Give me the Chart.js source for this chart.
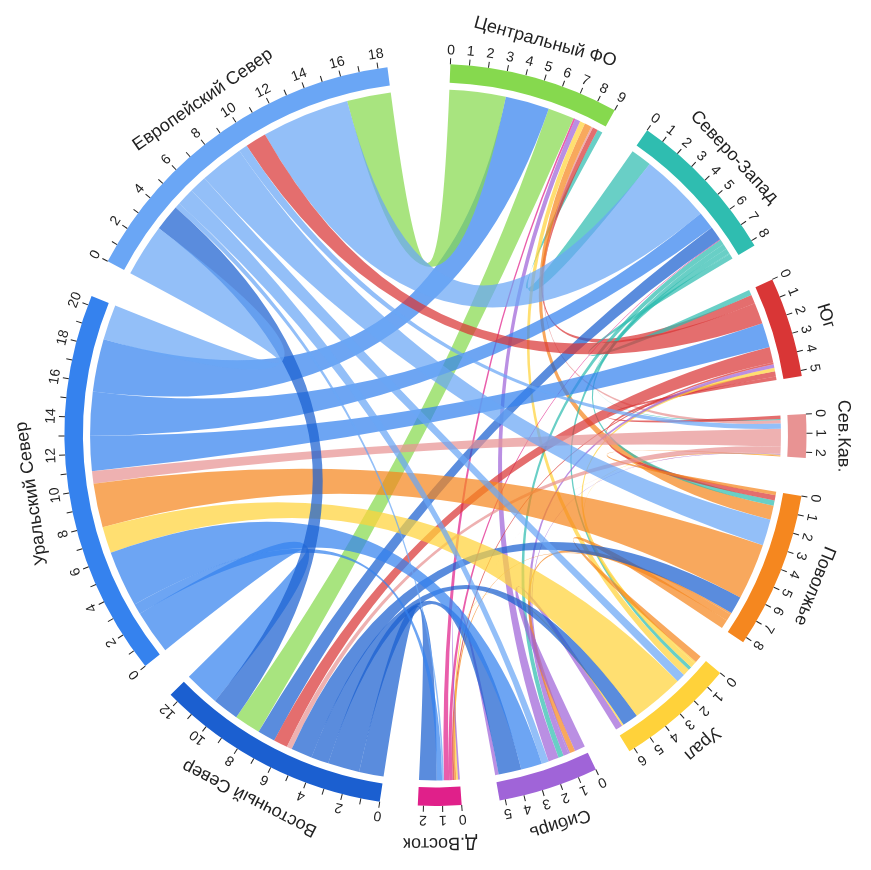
<!DOCTYPE html>
<html>
<head>
<meta charset="utf-8">
<script src="https://cdn.jsdelivr.net/npm/chart.js@4.4.0/dist/chart.umd.min.js"></script>
<style>
  html, body { margin: 0; padding: 0; background: #fff; }
  #wrap { width: 871px; height: 870px; }
</style>
</head>
<body>
<div id="wrap"><canvas id="chord"></canvas></div>
<script>
// Регионы по часовой стрелке, начиная сверху
const regions = ['Центральный ФО', 'Северо-Запад', 'Юг', 'Сев.Кав.', 'Поволжье', 'Урал',
                 'Сибирь', 'Д.Восток', 'Восточный Север', 'Уральский Север', 'Европейский Север'];
const regionColors = ['#86d94e', '#2fbdb0', '#d93636', '#e89393', '#f5871f', '#ffd23a',
                      '#a064d8', '#e0208a', '#1b5fd0', '#3582ee', '#6aa6f5'];
// Шаг подписей шкалы для каждого региона
const tickSteps = [1, 1, 1, 1, 1, 1, 1, 1, 2, 2, 2];
// Промежуток после каждого региона (в единицах шкалы)
const gaps = [2, 2, 2, 2, 2, 2, 2, 2, 2, 2, 3.3];

// Потоки: строка = откуда, столбец = куда (тот же порядок, что regions)
const fromCentral   = [0, 0.3, 0.3, 0.1, 0.4, 0.3, 0.3, 0.1, 1.5, 2.5, 3.2];
const fromNorthWest = [1.2, 0, 0.3, 0.05, 0.3, 0.3, 0.3, 0.05, 0.8, 1.0, 4.0];
const fromSouth     = [0.5, 0.3, 0, 0.2, 0.3, 0.2, 0.2, 0.1, 0.9, 1.4, 1.2];
const fromNCaucasus = [0.2, 0.05, 0.2, 0, 0.05, 0.05, 0.03, 0.02, 0.4, 1.0, 0.3];
const fromVolga     = [0.8, 0.3, 0.3, 0.2, 0, 0.5, 0.4, 0.1, 1.0, 3.2, 1.5];
const fromUral      = [0.4, 0.2, 0.3, 0.1, 0.4, 0, 0.4, 0.1, 0.9, 3.0, 0.5];
const fromSiberia   = [0.6, 0.3, 0.3, 0.1, 0.3, 0.6, 0, 0.2, 1.3, 1.2, 0.4];
const fromFarEast   = [0.3, 0.2, 0.1, 0.0, 0.1, 0.1, 0.1, 0, 1.0, 0.3, 0.1];
const fromEastNorth = [1.5, 1.0, 0.8, 0.3, 1.2, 1.0, 1.8, 1.4, 0, 2.0, 1.5];
const fromUralNorth = [3.0, 2.5, 2.0, 0.7, 2.5, 1.5, 3.2, 0.6, 2.5, 0, 2.0];
const fromEuroNorth = [2.5, 5.0, 1.2, 0.5, 2.5, 1.0, 1.0, 0.3, 1.5, 3.0, 0];

const flows = [fromCentral, fromNorthWest, fromSouth, fromNCaucasus, fromVolga, fromUral,
               fromSiberia, fromFarEast, fromEastNorth, fromUralNorth, fromEuroNorth];

const totals = flows.map(r => r.reduce((a, b) => a + b, 0));
const ringData = [], ringColors = [];
totals.forEach((t, i) => {
    ringData.push(t); ringColors.push(regionColors[i]);
    ringData.push(gaps[i]); ringColors.push('rgba(0,0,0,0)');
});

function hexA(hex, a) {
    const n = parseInt(hex.slice(1), 16);
    return `rgba(${n >> 16}, ${(n >> 8) & 255}, ${n & 255}, ${a})`;
}

const chordPlugin = {
    id: 'chord',
    beforeDatasetsDraw(chart) {
        const arcs = chart.getDatasetMeta(0).data;
        const ctx = chart.ctx;
        const n = regions.length;
        // позиции подгрупп
        const slots = [];
        for (let i = 0; i < n; i++) {
            const el = arcs[i * 2];
            const k = (el.endAngle - el.startAngle) / totals[i];
            let a = el.startAngle;
            slots[i] = [];
            for (let s = 1; s < n; s++) {
                const j = (i - s + n) % n;
                const w = flows[i][j] * k;
                slots[i][j] = [a, a + w];
                a += w;
            }
        }
        const el0 = arcs[0];
        const cx = el0.x, cy = el0.y, r = el0.innerRadius - 7;
        ctx.save();
        for (let i = 0; i < n; i++) {
            for (let j = i + 1; j < n; j++) {
                if (flows[i][j] + flows[j][i] <= 0) continue;
                const [a0, a1] = slots[i][j];
                const [b0, b1] = slots[j][i];
                const c = flows[i][j] >= flows[j][i] ? regionColors[i] : regionColors[j];
                ctx.beginPath();
                ctx.arc(cx, cy, r, a0, a1);
                ctx.quadraticCurveTo(cx, cy, cx + r * Math.cos(b0), cy + r * Math.sin(b0));
                ctx.arc(cx, cy, r, b0, b1);
                ctx.quadraticCurveTo(cx, cy, cx + r * Math.cos(a0), cy + r * Math.sin(a0));
                ctx.closePath();
                ctx.fillStyle = hexA(c, 0.72);
                ctx.fill();
            }
        }
        ctx.restore();
    },
    afterDatasetsDraw(chart) {
        const arcs = chart.getDatasetMeta(0).data;
        const ctx = chart.ctx;
        ctx.save();
        ctx.fillStyle = '#222';
        ctx.strokeStyle = '#222';
        ctx.lineWidth = 1;
        regions.forEach((name, i) => {
            const el = arcs[i * 2];
            const R = el.outerRadius;
            const k = (el.endAngle - el.startAngle) / totals[i];
            for (let v = 0; v <= totals[i] + 1e-6; v++) {
                const ang = el.startAngle + v * k;
                ctx.save();
                ctx.translate(el.x, el.y);
                ctx.rotate(ang + Math.PI / 2);
                ctx.beginPath();
                ctx.moveTo(0, -R);
                ctx.lineTo(0, -R - 6);
                ctx.stroke();
                if (v % tickSteps[i] === 0) {
                    ctx.font = '14px "Liberation Sans", Arial, sans-serif';
                    ctx.textAlign = 'center';
                    ctx.textBaseline = 'alphabetic';
                    ctx.fillText(String(v), 0, -R - 10);
                }
                ctx.restore();
            }
            const mid = (el.startAngle + el.endAngle) / 2;
            ctx.save();
            ctx.translate(el.x, el.y);
            ctx.rotate(mid + Math.PI / 2);
            ctx.font = '18px "Liberation Sans", Arial, sans-serif';
            ctx.textAlign = 'center';
            ctx.fillText(name, 0, -R - 32);
            ctx.restore();
        });
        ctx.restore();
    }
};

new Chart(document.getElementById('chord'), {
    type: 'doughnut',
    data: {
        labels: ringData.map((_, k) => k % 2 === 0 ? regions[k / 2] : ''),
        datasets: [{
            data: ringData,
            backgroundColor: ringColors,
            borderWidth: 0,
            cutout: '95%'
        }]
    },
    options: {
        responsive: true,
        maintainAspectRatio: false,
        animation: false,
        rotation: 2.3,
        layout: { padding: 64 },
        plugins: { legend: { display: false }, tooltip: { enabled: false } }
    },
    plugins: [chordPlugin]
});
</script>
</body>
</html>
